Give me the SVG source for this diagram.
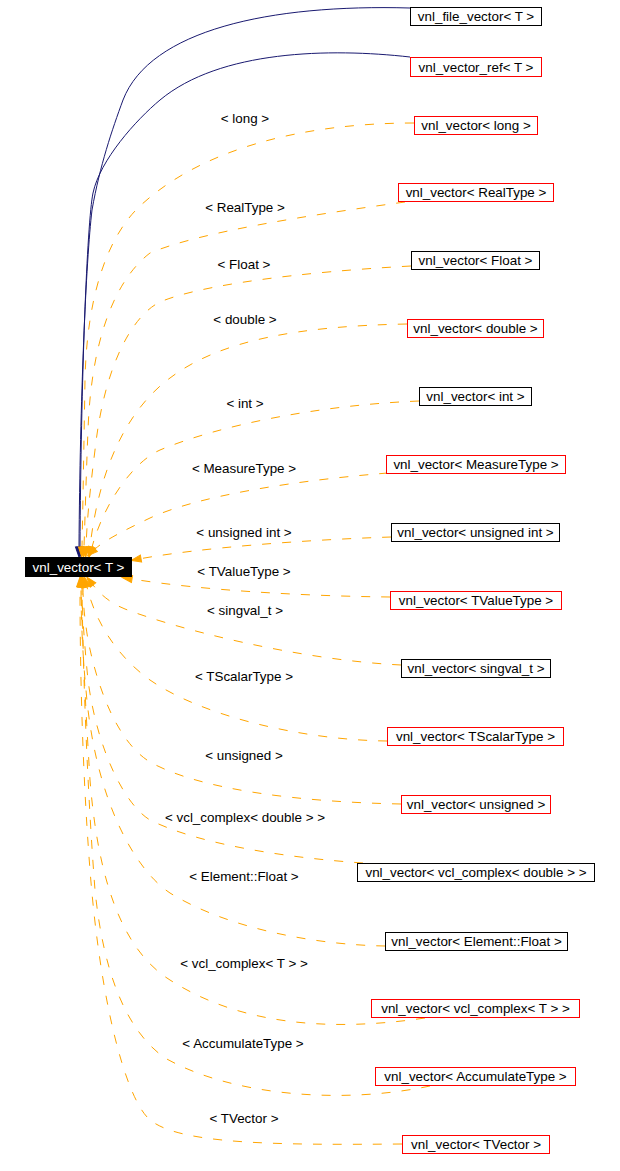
<svg xmlns="http://www.w3.org/2000/svg" width="620" height="1171" viewBox="0 0 620 1171">
<style>
.n rect{fill:#fff;stroke:#000;stroke-width:1}
.n.r rect{stroke:#f00}
text{font-family:"Liberation Sans",Arial,sans-serif;font-size:13.4px;fill:#000;text-anchor:middle}
.root text{fill:#fff}
.e{fill:none;stroke-width:1}
.pub{stroke:#191970;marker-end:url(#an)}
.tpl{stroke:#ffa500;stroke-dasharray:9,11;marker-end:url(#ao)}
</style>
<defs>
<marker id="ao" markerUnits="userSpaceOnUse" markerWidth="12" markerHeight="9" refX="0" refY="3.5" orient="auto" overflow="visible"><path d="M0,0 L10,3.5 L0,7 z" fill="#ffa500" stroke="#ffa500"/></marker>
<marker id="an" markerUnits="userSpaceOnUse" markerWidth="12" markerHeight="9" refX="0" refY="3.5" orient="auto" overflow="visible"><path d="M0,0 L10,3.5 L0,7 z" fill="#191970" stroke="#191970"/></marker>
</defs>
<rect width="620" height="1171" fill="#fff"/>
<g id="edges">
<path class="e pub" d="M410,8 C270,4 150,30 123,100 C112,130 100,165 92,210 C86,260 80,400 79,547"/>
<path class="e pub" d="M410,57 C330,48 220,50 160,100 C136,120 100,160 93,193 C87,222 81,380 80,547"/>
<path class="e tpl" d="M414,123 C300,123 200,150 140,206 C110,234 87,290 85,380 C84,440 83,500 82,547"/>
<path class="e tpl" d="M405,202 C310,215 200,232 150,253 C125,272 92,320 88,430 C86,480 85,520 84,547"/>
<path class="e tpl" d="M411,266 C300,272 200,285 160,302 C135,314 105,360 95,450 C90,490 87,520 86,547"/>
<path class="e tpl" d="M407,324 C300,326 220,340 170,378 C132,406 100,460 90,547"/>
<path class="e tpl" d="M419,401 C320,405 220,425 160,450 C135,461 105,500 92,547"/>
<path class="e tpl" d="M388,473 C300,480 200,495 150,518 C125,530 105,540 95,549"/>
<path class="e tpl" d="M391,537 C300,540 200,548 141,558.6"/>
<path class="e tpl" d="M390,597 C300,596 200,590 132,579"/>
<path class="e tpl" d="M401,665 C300,660 180,630 125,609 C110,603 100,594 93,585"/>
<path class="e tpl" d="M387,741 C300,740 200,715 150,680 C122,660 97,628 87,587"/>
<path class="e tpl" d="M401,804 C300,802 200,790 150,762 C122,745 100,700 88,640 C84,615 83,600 83,587"/>
<path class="e tpl" d="M363,863 C290,858 200,845 150,820 C125,805 97,750 88,680 C84,640 82,610 82,587"/>
<path class="e tpl" d="M385,946 C320,945 230,930 170,893 C135,870 95,800 86,690 C82,650 81,610 81,587"/>
<path class="e tpl" d="M425,1018 C330,1032 240,1025 170,980 C122,950 98,880 90,780 C85,700 82,630 81,587"/>
<path class="e tpl" d="M430,1086 C340,1105 230,1095 165,1058 C125,1030 103,970 95,890 C88,800 83,680 82,587"/>
<path class="e tpl" d="M402,1144 C280,1145 175,1145 148,1118 C125,1095 100,1000 90,870 C83,780 80,680 80,587"/>
</g>
<g id="labels">
<text x="245" y="122.5">&lt; long &gt;</text>
<text x="245" y="211.5">&lt; RealType &gt;</text>
<text x="244" y="268.5">&lt; Float &gt;</text>
<text x="245" y="323.5">&lt; double &gt;</text>
<text x="245" y="407.5">&lt; int &gt;</text>
<text x="244" y="472.5">&lt; MeasureType &gt;</text>
<text x="244" y="536.5">&lt; unsigned int &gt;</text>
<text x="244" y="575.5">&lt; TValueType &gt;</text>
<text x="245" y="614.5">&lt; singval_t &gt;</text>
<text x="244" y="680.5">&lt; TScalarType &gt;</text>
<text x="244" y="759.5">&lt; unsigned &gt;</text>
<text x="245" y="821.5">&lt; vcl_complex&lt; double &gt; &gt;</text>
<text x="244" y="880.5">&lt; Element::Float &gt;</text>
<text x="244" y="967.5">&lt; vcl_complex&lt; T &gt; &gt;</text>
<text x="243" y="1047.5">&lt; AccumulateType &gt;</text>
<text x="244" y="1122.5">&lt; TVector &gt;</text>
</g>
<g id="root" class="root"><rect x="25" y="557" width="107" height="20" fill="#000"/><text x="78.5" y="571.5">vnl_vector&lt; T &gt;</text></g>
<g id="n1" class="n"><rect x="410.5" y="7.5" width="131" height="18"/><text x="476" y="21">vnl_file_vector&lt; T &gt;</text></g>
<g id="n2" class="n r"><rect x="410.5" y="57.5" width="131" height="19"/><text x="476" y="71.5">vnl_vector_ref&lt; T &gt;</text></g>
<g id="n3" class="n r"><rect x="414.5" y="116.5" width="123" height="18"/><text x="476" y="130">vnl_vector&lt; long &gt;</text></g>
<g id="n4" class="n r"><rect x="398.5" y="183.5" width="155" height="18"/><text x="476" y="197">vnl_vector&lt; RealType &gt;</text></g>
<g id="n5" class="n"><rect x="411.5" y="251.5" width="128" height="18"/><text x="475.5" y="265">vnl_vector&lt; Float &gt;</text></g>
<g id="n6" class="n r"><rect x="407.5" y="319.5" width="136" height="18"/><text x="475.5" y="333">vnl_vector&lt; double &gt;</text></g>
<g id="n7" class="n"><rect x="419.5" y="387.5" width="112" height="18"/><text x="475.5" y="401">vnl_vector&lt; int &gt;</text></g>
<g id="n8" class="n r"><rect x="386.5" y="455.5" width="179" height="18"/><text x="476" y="469">vnl_vector&lt; MeasureType &gt;</text></g>
<g id="n9" class="n"><rect x="391.5" y="523.5" width="168" height="18"/><text x="475.5" y="537">vnl_vector&lt; unsigned int &gt;</text></g>
<g id="n10" class="n r"><rect x="390.5" y="591.5" width="171" height="18"/><text x="476" y="605">vnl_vector&lt; TValueType &gt;</text></g>
<g id="n11" class="n"><rect x="401.5" y="659.5" width="149" height="18"/><text x="476" y="673">vnl_vector&lt; singval_t &gt;</text></g>
<g id="n12" class="n r"><rect x="387.5" y="727.5" width="176" height="18"/><text x="475.5" y="741">vnl_vector&lt; TScalarType &gt;</text></g>
<g id="n13" class="n r"><rect x="401.5" y="795.5" width="149" height="18"/><text x="476" y="809">vnl_vector&lt; unsigned &gt;</text></g>
<g id="n14" class="n"><rect x="357.5" y="863.5" width="237" height="18"/><text x="476" y="877">vnl_vector&lt; vcl_complex&lt; double &gt; &gt;</text></g>
<g id="n15" class="n"><rect x="385.5" y="932.5" width="182" height="18"/><text x="476.5" y="946">vnl_vector&lt; Element::Float &gt;</text></g>
<g id="n16" class="n r"><rect x="371.5" y="999.5" width="208" height="18"/><text x="475.5" y="1013">vnl_vector&lt; vcl_complex&lt; T &gt; &gt;</text></g>
<g id="n17" class="n r"><rect x="375.5" y="1067.5" width="200" height="18"/><text x="475.5" y="1081">vnl_vector&lt; AccumulateType &gt;</text></g>
<g id="n18" class="n r"><rect x="402.5" y="1135.5" width="147" height="18"/><text x="476" y="1149">vnl_vector&lt; TVector &gt;</text></g>
</svg>
